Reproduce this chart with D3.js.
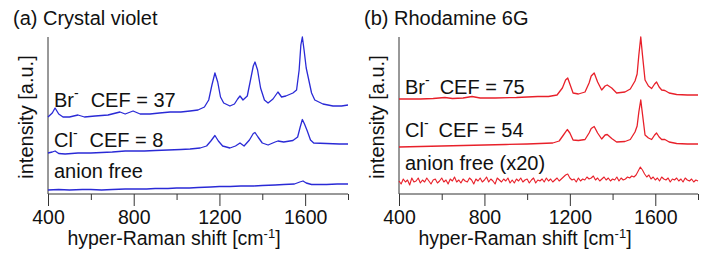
<!DOCTYPE html>
<html>
<head>
<meta charset="utf-8">
<script src="https://cdn.jsdelivr.net/npm/d3@7"></script>
<style>
  body { margin: 0; background: #fff; }
  svg text { font-family: "Liberation Sans", Arial, Helvetica, sans-serif; fill: #111; }
</style>
</head>
<body>
<div id="chart"></div>
<script>
// spectra: [shift cm-1, intensity a.u. (offset stacked)]
const cvBromide = [[400,77],[420,81],[433,86],[450,80],[470,77],[500,77],[540,79],[570,77],[620,78],[680,79],
  [736,82],[760,80],[797,83],[830,80],[876,80],[920,81],[970,82],[1020,82],[1063,83],[1100,84],[1130,87],
  [1150,94],[1165,109],[1179,121],[1192,112],[1205,97],[1220,91],[1249,88],[1270,90],[1285,95],[1296,98],
  [1310,94],[1330,98],[1345,114],[1358,128],[1366,132],[1378,124],[1392,106],[1410,94],[1427,91],[1450,95],
  [1473,102],[1490,97],[1510,98],[1543,101],[1560,104],[1572,124],[1580,149],[1587,157],[1595,144],[1605,126],
  [1615,116],[1630,101],[1645,94],[1683,90],[1730,88],[1770,88],[1800,89]];
const cvChloride = [[400,41],[420,42],[433,43],[450,40.5],[480,40],[540,41],[600,41],[700,42],[760,43],[800,43],
  [850,43],[900,43.5],[960,44],[1020,44.5],[1063,45],[1110,46],[1140,48],[1160,53],[1179,58.5],[1195,53],
  [1215,48],[1249,46],[1275,48],[1296,51],[1315,48],[1340,54],[1358,60.5],[1366,61.5],[1380,57],[1400,51],
  [1427,49],[1460,52],[1473,53],[1500,52],[1543,53.5],[1565,57],[1577,67],[1587,74.5],[1597,70],[1610,63],
  [1625,54],[1640,51],[1700,50.5],[1760,50],[1800,50]];
const cvFree = [[400,4],[450,4.5],[500,4],[560,4.5],[600,4.5],[650,4],[700,4.5],[760,5],[800,5],[860,5],
  [900,5.5],[960,5.5],[1000,6],[1060,6],[1100,6.5],[1160,7],[1200,7.5],[1250,7.5],[1300,8],[1360,8],[1400,8.5],
  [1460,9],[1500,9.5],[1550,10],[1575,12],[1590,13],[1605,11],[1630,9.5],[1700,9.5],[1750,10],[1800,10]];

const r6gBromide = [[400,95],[450,95],[500,95],[560,95.5],[615,96.5],[650,95.5],[700,96],[742,97.5],[780,96],
  [850,96],[950,96.5],[1050,97.5],[1100,97.5],[1140,99],[1165,106],[1180,114],[1190,116],[1200,110],[1215,101],
  [1240,100],[1271,102],[1290,111],[1300,118],[1314,121],[1330,112],[1349,104],[1365,108],[1375,109],[1396,106],
  [1419,101],[1458,102],[1483,105],[1505,113],[1515,120],[1523,139],[1532,157],[1540,139],[1552,114],[1568,108],
  [1583,105.5],[1597,110],[1606,112],[1618,107],[1630,104],[1645,103.5],[1665,101],[1700,99.5],[1750,99],[1800,99]];
const r6gChloride = [[400,47],[500,47.5],[600,48],[700,48.5],[800,49],[900,49.5],[1000,50],[1060,50.5],[1120,51],
  [1150,53],[1170,59],[1188,64.5],[1200,61],[1215,54],[1240,53.5],[1271,54.5],[1290,61],[1300,65.5],[1314,67.5],
  [1330,61],[1349,55],[1365,59],[1375,59.5],[1396,55.5],[1419,52],[1458,52.5],[1483,54.5],[1505,62],[1515,68],
  [1523,82],[1532,94],[1540,80],[1552,59],[1568,56],[1583,54.5],[1597,59],[1606,61],[1618,57],[1630,54.5],
  [1645,54.5],[1665,52],[1700,50.5],[1750,50],[1800,50]];
// anion free (x20), sampled every 10 cm-1 from 400
const r6gFreeShift = d3.range(400, 1801, 10);
const r6gFreeValues = [
  13,10,15,12,14,9,16,12,13,16, 11,14,12,16,13,10,14,15,11,13,
  16,12,14,10,15,13,17,12,14,11, 15,13,12,16,14,10,15,13,16,12,
  14,17,12,15,13,10,16,14,12,15, 13,16,11,14,11,15,13,16,12,14,
  15,11,14,16,11,14,13,15,12,16, 13,15,12,14,16,13,15,17,19,20,
  16,14,15,12,16,13,15,14,17,15, 16,18,14,16,13,15,17,14,16,13,
  15,14,17,13,16,14,15,17,16,18, 17,19,23,27,24,20,17,19,15,17,
  14,16,13,17,15,14,16,12,15,14, 16,13,15,12,16,14,13,15,12,14, 13];
const r6gFree = r6gFreeShift.map((s, i) => [s, r6gFreeValues[i]]);

const majorTicks = [400, 800, 1200, 1600];
const minorTicks = [600, 1000, 1400, 1800];

const width = 701, height = 257;
const svg = d3.select('#chart').append('svg')
  .attr('width', width)
  .attr('height', height);

function drawPanel(opt) {
  const x = d3.scaleLinear().domain([400, 1800]).range([opt.left, opt.right]);
  const y = d3.scaleLinear().domain([0, 157]).range([194, 37]);
  const g = svg.append('g');

  // axes
  g.append('line').attr('x1', opt.left).attr('x2', opt.left).attr('y1', 37).attr('y2', 194)
    .attr('stroke', '#333').attr('stroke-width', 1);
  g.append('line').attr('x1', opt.left).attr('x2', opt.right).attr('y1', 194).attr('y2', 194)
    .attr('stroke', '#333').attr('stroke-width', 1);

  const axMajor = d3.axisBottom(x).tickValues(majorTicks).tickSize(12).tickPadding(4)
    .tickFormat(d3.format('d'));
  const gx = g.append('g').attr('transform', 'translate(0,194)').call(axMajor);
  gx.select('.domain').remove();
  gx.selectAll('line').attr('stroke', '#333');
  gx.selectAll('text').attr('font-size', 19.5).attr('fill', '#111')
    .style('font-family', '"Liberation Sans", Arial, sans-serif');

  const axMinor = d3.axisBottom(x).tickValues(minorTicks).tickSize(6).tickFormat('');
  const gm = g.append('g').attr('transform', 'translate(0,194)').call(axMinor);
  gm.select('.domain').remove();
  gm.selectAll('line').attr('stroke', '#333');

  const line = d3.line().x(d => x(d[0])).y(d => y(d[1]));
  opt.series.forEach(s => {
    g.append('path').datum(s.data).attr('d', line)
      .attr('fill', 'none').attr('stroke', opt.color)
      .attr('stroke-width', s.width || 1.3).attr('stroke-linejoin', 'round');
  });

  // panel title
  g.append('text').attr('x', opt.left - 35).attr('y', 25).attr('font-size', 20).text(opt.title);

  // y label
  g.append('text').attr('transform', `translate(${opt.left - 15},117) rotate(-90)`)
    .attr('text-anchor', 'middle').attr('font-size', 20).text('intensity [a.u.]');

  // x label
  const xl = g.append('text').attr('x', opt.left + 126).attr('y', 245)
    .attr('text-anchor', 'middle').attr('font-size', 19.5);
  xl.append('tspan').text('hyper-Raman shift [cm');
  xl.append('tspan').attr('font-size', 13).attr('dy', -7).text('-1');
  xl.append('tspan').attr('dy', 7).text(']');

  // series labels
  opt.labels.forEach(l => {
    const t = g.append('text').attr('x', opt.left + 6).attr('y', l.y).attr('font-size', 20);
    t.append('tspan').text(l.ion);
    if (l.sup) {
      t.append('tspan').attr('font-size', 14).attr('dy', -9).text('-');
      t.append('tspan').attr('dy', 9).attr('dx', l.gap).text(l.cef);
    }
  });
}

drawPanel({
  left: 48, right: 348, color: '#2a2ad6', title: '(a) Crystal violet',
  series: [{ data: cvBromide }, { data: cvChloride }, { data: cvFree }],
  labels: [
    { ion: 'Br', sup: true, gap: 12, cef: 'CEF = 37', y: 106.7 },
    { ion: 'Cl', sup: true, gap: 12, cef: 'CEF = 8', y: 146.7 },
    { ion: 'anion free', y: 178.3 }
  ]
});

drawPanel({
  left: 399, right: 698, color: '#e8202a', title: '(b) Rhodamine 6G',
  series: [{ data: r6gBromide }, { data: r6gChloride }, { data: r6gFree, width: 1.1 }],
  labels: [
    { ion: 'Br', sup: true, gap: 10, cef: 'CEF = 75', y: 94 },
    { ion: 'Cl', sup: true, gap: 10, cef: 'CEF = 54', y: 136.7 },
    { ion: 'anion free (x20)', y: 170 }
  ]
});
</script>
</body>
</html>
